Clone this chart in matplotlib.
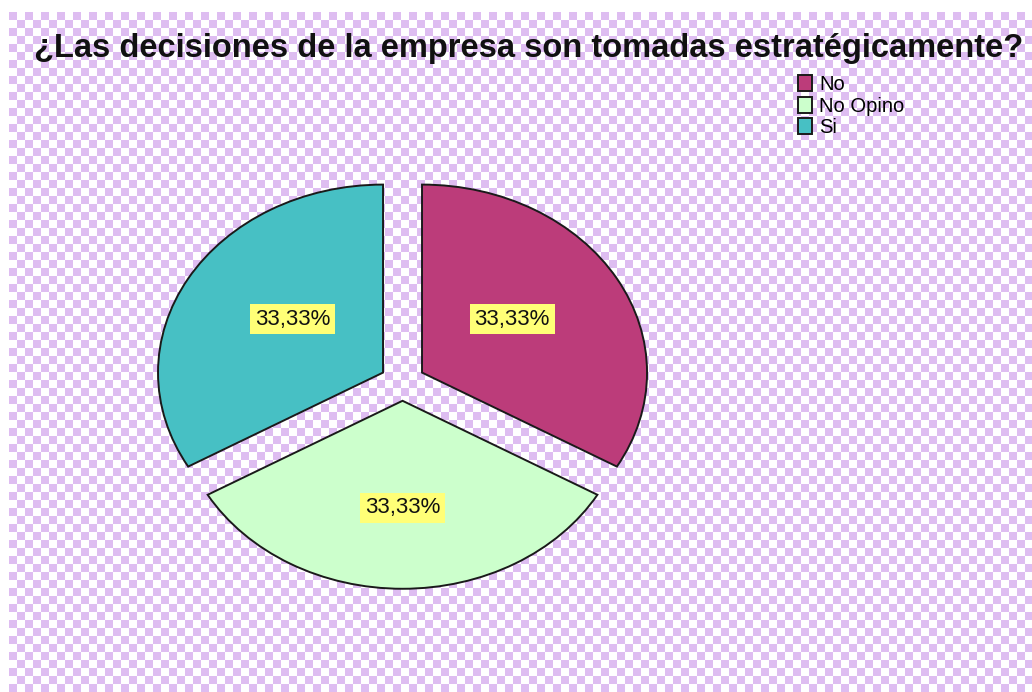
import numpy as np
from matplotlib import pyplot as plt

plt.rcParams['font.family'] = ['Liberation Sans', 'DejaVu Sans']

categories = ["No", "No Opino", "Si"]
values = [1, 1, 1]
colors = ["#BC3C7A", "#CCFFCC", "#47C0C4"]
title = "¿Las decisiones de la empresa son tomadas estratégicamente?"

W, H = 1032, 692
fig = plt.figure(figsize=(W / 100, H / 100), dpi=100)

# checkered background
bg = fig.add_axes([0, 0, 1, 1])
cell = 8
nx = (W - 9) // cell + 1
ny = (H - 12) // cell + 1
yy, xx = np.indices((ny, nx))
board = (xx + yy) % 2
rgb = np.ones((ny, nx, 3))
rgb[board == 0] = [0xDE / 255, 0xBD / 255, 0xF1 / 255]
bg.imshow(rgb, extent=[9, 9 + nx * cell, H - 12 - ny * cell, H - 12],
          interpolation="nearest", origin="upper")
bg.set_xlim(0, W)
bg.set_ylim(0, H)
bg.axis("off")

# pie, slightly wider than tall
ax = fig.add_axes([0.1284, 0.122, 0.5233, 0.652])
ax.patch.set_alpha(0)
wedges, texts, autotexts = ax.pie(
    values, colors=colors, startangle=90, counterclock=False,
    explode=[0.1, 0.1, 0.1], autopct=lambda p: f"{p:.2f}%".replace(".", ","),
    pctdistance=0.57, wedgeprops=dict(edgecolor="#1a1a1a", linewidth=1.4))
for t in autotexts:
    x, y = t.get_position()
    t.set_x(x * 0.84)  # labels sit on a round layout, not the stretched one
    t.set_fontsize(16)
    t.set_color("#111111")
    t.set_bbox(dict(facecolor="#FFFF77", edgecolor="none", pad=3.5))
ax.set_aspect("auto")
ax.set_xlim(-1.2, 1.2)
ax.set_ylim(-1.2, 1.2)
ax.axis("off")

fig.text(529 / W, 1 - 49 / H, title, ha="center", va="center",
         fontsize=23.5, fontweight="bold", color="#111111")

fig.legend(wedges, categories, loc="upper left",
           bbox_to_anchor=(784 / W, 1 - 61 / H), frameon=False,
           fontsize=14.5, handlelength=0.7, handleheight=0.85,
           handletextpad=0.35, labelspacing=0.12, borderpad=0.2)

fig.savefig("out.png", dpi=100)
